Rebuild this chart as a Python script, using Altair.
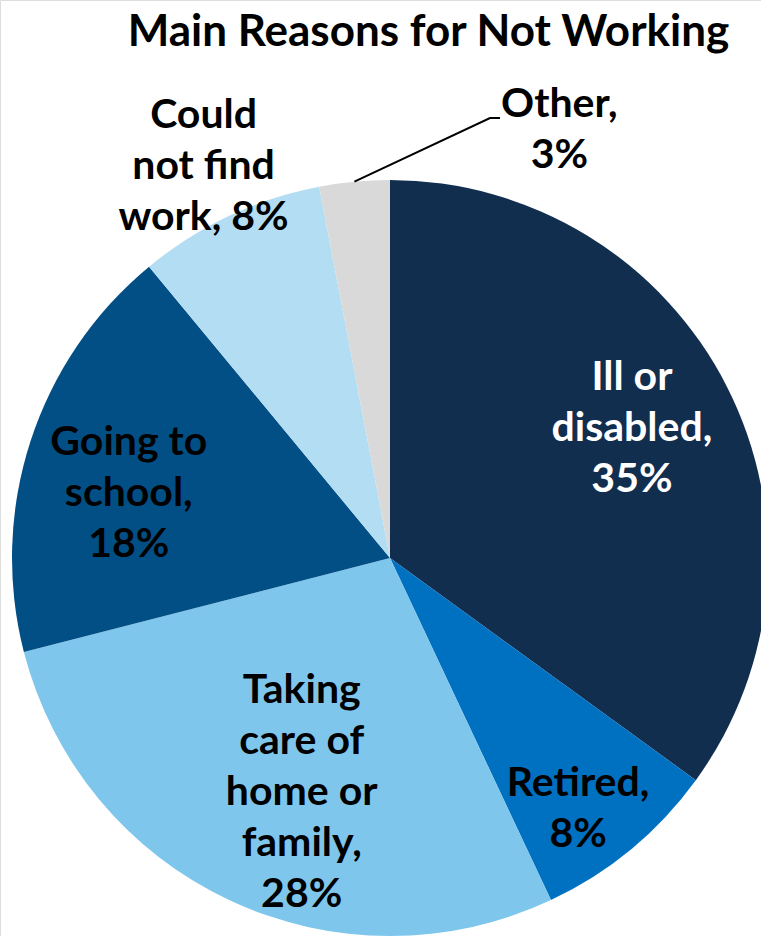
import altair as alt
import pandas as pd
import math

# ---- data ----
categories = ["Ill or disabled", "Retired", "Taking care of home or family",
              "Going to school", "Could not find work", "Other"]
values = [35, 8, 28, 18, 8, 3]
labels = ["Ill or\ndisabled,\n35%", "Retired,\n8%", "Taking\ncare of\nhome or\nfamily,\n28%",
          "Going to\nschool,\n18%", "Could\nnot find\nwork, 8%", "Other,\n3%"]

# ---- styles / layout ----
colors = ["#112E4F", "#0070C0", "#7FC6EC", "#024F86", "#B3DDF3", "#D9D9D9"]
text_colors = ["#FFFFFF", "#000000", "#000000", "#000000", "#000000", "#000000"]
label_radius = [274, 314, 251, 269, 433, 460]           # px from pie centre
label_angle_shift = [-1.0, 2.8, -4.6, -4.2, -0.3, 27.0]  # degrees off slice middle

W, H = 761, 936
CX, CY, R = 390, 558, 378
FONT = "Lato"
LABEL_SIZE = 41
LINE_H = 51

df = pd.DataFrame({
    "cat": categories,
    "value": values,
    "label": labels,
    "idx": list(range(len(categories))),
    "tcolor": text_colors,
    "lr": label_radius,
    "lshift": label_angle_shift,
})

arcs = alt.Chart(df).mark_arc(outerRadius=R, x=CX, y=CY).encode(
    theta=alt.Theta("value:Q", stack=True),
    order=alt.Order("idx:Q", sort="ascending"),
    color=alt.Color("cat:N", scale=alt.Scale(domain=categories, range=colors), legend=None),
)

# label anchor: middle of each slice (clockwise from 12 o'clock), centred block of lines
lbl = alt.Chart(df).transform_joinaggregate(
    total="sum(value)"
).transform_window(
    cum="sum(value)", sort=[alt.SortField("idx", order="ascending")],
    frame=[None, 0]
).transform_calculate(
    ang="(datum.cum - datum.value / 2) / datum.total * 2 * PI + datum.lshift * PI / 180",
    nlines="split(datum.label, '\\n').length",
).transform_calculate(
    px=f"{CX} + datum.lr * sin(datum.ang)",
    py=f"{CY} - datum.lr * cos(datum.ang) - (datum.nlines - 1) * {LINE_H} / 2",
)

text_labels = lbl.mark_text(
    font=FONT, fontWeight="bold", fontSize=LABEL_SIZE, lineBreak="\n",
    lineHeight=LINE_H, align="center", baseline="middle"
).encode(
    x=alt.X("px:Q", scale=None),
    y=alt.Y("py:Q", scale=None),
    text="label:N",
    color=alt.Color("tcolor:N", scale=None),
)

# leader line for "Other": from the slice's mid-angle on the rim to an elbow
start_frac = sum(values[:5]) / sum(values)
mid = 2 * math.pi * (start_frac + values[5] / sum(values) / 2)
sx, sy = CX + R * math.sin(mid), CY - R * math.cos(mid)
leader = pd.DataFrame({"x": [sx, 490, 500], "y": [sy, 118, 118], "o": [0, 1, 2]})
leader_line = alt.Chart(leader).mark_line(color="black", strokeWidth=2).encode(
    x=alt.X("x:Q", scale=None), y=alt.Y("y:Q", scale=None), order="o:Q"
)

chart = alt.layer(arcs, leader_line, text_labels).properties(
    width=W, height=H,
    title=alt.TitleParams("Main Reasons for Not Working", font=FONT, fontSize=44,
                          fontWeight="bold", color="black", anchor="middle",
                          baseline="top", offset=0, dy=55, dx=48),
    autosize=alt.AutoSizeParams(type="none"),
    padding=0,
).configure_view(stroke=None).configure(background="white")

chart.save("out.html", embed_options={"renderer": "svg", "actions": False})
